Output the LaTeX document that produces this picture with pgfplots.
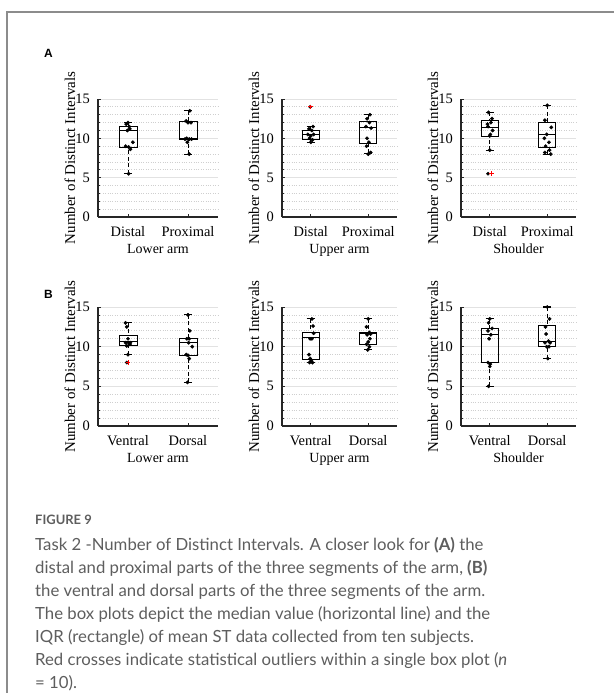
\documentclass[border=0pt]{standalone}
\usepackage{fontspec}
\setmainfont{Liberation Serif}
\newfontfamily\capfont{Lato}
\newfontfamily\lblfont{Liberation Sans}
\usepackage{pgfplots}
\pgfplotsset{compat=1.18}
\usepgfplotslibrary{statistics}
\definecolor{axgray}{HTML}{262626}
\definecolor{gridmaj}{HTML}{E2E2E2}
\definecolor{gridmin}{HTML}{CFCFCF}
\definecolor{capgray}{HTML}{5E5E5E}
\definecolor{framegray}{HTML}{8C8C8C}

\pgfplotsset{
 panel/.style={
  scale only axis,
  xmin=0.5,xmax=2.5,ymin=0,ymax=15,
  axis x line*=bottom, axis y line*=left,
  axis line style={-, line width=1.1bp, axgray},
  ytick={0,5,10,15}, minor ytick={1,2,3,4,6,7,8,9,11,12,13,14},
  xtick={1,2},
  tick align=inside, major tick length=3bp, minor tick length=2bp,
  tick style={axgray, line width=0.8bp},
  ymajorgrids, yminorgrids,
  major grid style={gridmaj, line width=0.8bp},
  minor grid style={gridmin, dotted, line width=0.8bp},
  font=\fontsize{14}{16}\selectfont,
  ticklabel style={font=\fontsize{14.5}{16}\selectfont},
  /pgf/number format/assume math mode=true,
  yticklabel style={anchor=east, inner sep=0pt, xshift=-8bp},
  xticklabel style={anchor=base, inner sep=0pt, yshift=-19bp},
  ylabel={Number of Distinct Intervals},
  ylabel style={at={([xshift=-28bp]axis description cs:0,0.5)}, anchor=center, font=\fontsize{15}{17}\selectfont},
  xlabel style={at={([yshift=-36bp]axis description cs:0.5,0)}, anchor=base, inner sep=0pt},
  clip=false,
  boxplot/draw direction=y,
  boxplot/box extend=0.3, boxplot/whisker extend=0.14,
  boxplot/every box/.style={draw=black, line width=0.8bp},
  boxplot/every median/.style={line width=0.9bp},
  boxplot/every whisker/.style={line width=0.9bp},
  boxplot/draw/lower whisker/.code={%
   \draw[/pgfplots/boxplot/every whisker/.try, dash pattern=on 4bp off 2.5bp]
     (boxplot box cs:\pgfplotsboxplotvalue{lower whisker},0.5) --
     (boxplot box cs:\pgfplotsboxplotvalue{lower quartile},0.5);
   \draw[/pgfplots/boxplot/every whisker/.try, solid, line width=1.1bp]
     (boxplot whisker cs:\pgfplotsboxplotvalue{lower whisker},0) --
     (boxplot whisker cs:\pgfplotsboxplotvalue{lower whisker},1);
  },
  boxplot/draw/upper whisker/.code={%
   \draw[/pgfplots/boxplot/every whisker/.try, dash pattern=on 4bp off 2.5bp]
     (boxplot box cs:\pgfplotsboxplotvalue{upper whisker},0.5) --
     (boxplot box cs:\pgfplotsboxplotvalue{upper quartile},0.5);
   \draw[/pgfplots/boxplot/every whisker/.try, solid, line width=1.1bp]
     (boxplot whisker cs:\pgfplotsboxplotvalue{upper whisker},0) --
     (boxplot whisker cs:\pgfplotsboxplotvalue{upper whisker},1);
  },
 },
 dots/.style={only marks, mark=*, mark size=1.7bp, black},
 outl/.style={only marks, mark=+, mark size=2.3bp, red, line width=0.9bp},
}

\begin{document}
\begin{tikzpicture}
\useasboundingbox (0,0) rectangle (614bp,-693bp);
\fill[white] (0,0) rectangle (614bp,-693bp);
\draw[framegray, line width=1.3bp] (7bp,-693bp) -- (7bp,-12bp) -- (614bp,-12bp);

\node[anchor=base west, inner sep=0, font=\lblfont\bfseries\fontsize{12}{13}\selectfont] at (44bp,-57bp) {A};
\node[anchor=base west, inner sep=0, font=\lblfont\bfseries\fontsize{12}{13}\selectfont] at (44bp,-298bp) {B};

% ---------- Row A ----------
\begin{axis}[panel, at={(98bp,-217bp)}, anchor=south west, width=120bp, height=118bp,
  xticklabels={Distal,Proximal}, xlabel={Lower arm}]
\addplot[black, boxplot prepared={draw position=1, lower whisker=5.5, lower quartile=8.9, median=11.0, upper quartile=11.5, upper whisker=12.0}] coordinates {};
\addplot[black, boxplot prepared={draw position=2, lower whisker=8.0, lower quartile=9.9, median=9.95, upper quartile=12.1, upper whisker=13.5}] coordinates {};
\addplot[dots] coordinates {(1.00,12.0) (0.97,11.8) (1.02,11.5) (1.03,11.2) (1.08,9.5) (0.96,9.0) (1.01,8.9) (1.04,8.6) (0.99,11.0) (1.01,5.5)};
\addplot[dots] coordinates {(2.03,13.5) (1.97,12.2) (2.00,12.0) (2.05,12.0) (1.98,10.0) (2.02,9.9) (1.95,9.9) (2.06,9.9) (1.99,9.5) (2.02,8.0)};
\end{axis}

\begin{axis}[panel, at={(282bp,-217bp)}, anchor=south west, width=115bp, height=118bp,
  xticklabels={Distal,Proximal}, xlabel={Upper arm}]
\addplot[black, boxplot prepared={draw position=1, lower whisker=9.5, lower quartile=9.9, median=10.5, upper quartile=11.05, upper whisker=11.5}] coordinates {};
\addplot[black, boxplot prepared={draw position=2, lower whisker=8.1, lower quartile=9.35, median=11.35, upper quartile=12.1, upper whisker=13.0}] coordinates {};
\addplot[dots] coordinates {(1.04,11.5) (0.97,11.2) (1.02,11.0) (0.95,10.5) (1.05,10.5) (1.00,10.3) (0.98,10.0) (1.03,9.8) (1.00,9.5) (0.99,14.0)};
\addplot[outl] coordinates {(1.0,14.0)};
\addplot[dots] coordinates {(2.03,13.0) (1.98,12.5) (2.02,12.0) (1.96,11.5) (2.05,11.3) (1.98,10.0) (2.01,9.5) (1.97,9.0) (2.04,8.2) (2.00,8.0)};
\end{axis}

\begin{axis}[panel, at={(461bp,-217bp)}, anchor=south west, width=115bp, height=118bp,
  xticklabels={Distal,Proximal}, xlabel={Shoulder}]
\addplot[black, boxplot prepared={draw position=1, lower whisker=8.5, lower quartile=10.3, median=11.4, upper quartile=12.3, upper whisker=13.3}] coordinates {};
\addplot[black, boxplot prepared={draw position=2, lower whisker=8.0, lower quartile=8.8, median=10.5, upper quartile=12.0, upper whisker=14.2}] coordinates {};
\addplot[dots] coordinates {(0.98,13.3) (1.04,12.5) (1.02,12.0) (0.96,11.8) (0.97,11.5) (1.05,11.0) (1.01,10.5) (1.00,10.3) (1.00,8.5) (0.97,5.5)};
\addplot[outl] coordinates {(1.03,5.5)};
\addplot[dots] coordinates {(2.00,14.2) (1.96,12.3) (2.07,11.4) (1.99,10.5) (1.95,10.0) (2.03,9.5) (1.97,9.0) (2.04,8.5) (1.96,8.2) (2.06,8.0)};
\end{axis}

% ---------- Row B ----------
\begin{axis}[panel, at={(98bp,-426bp)}, anchor=south west, width=120bp, height=119bp,
  xticklabels={Ventral,Dorsal}, xlabel={Lower arm}]
\addplot[black, boxplot prepared={draw position=1, lower whisker=9.0, lower quartile=10.1, median=10.6, upper quartile=11.4, upper whisker=13.0}] coordinates {};
\addplot[black, boxplot prepared={draw position=2, lower whisker=5.5, lower quartile=8.9, median=10.5, upper quartile=11.1, upper whisker=14.0}] coordinates {};
\addplot[dots] coordinates {(0.96,13.0) (0.98,12.5) (1.00,11.0) (0.96,10.5) (1.04,10.5) (1.01,10.5) (1.03,10.3) (0.98,10.1) (1.00,9.0) (0.98,8.0)};
\addplot[outl] coordinates {(1.0,8.0)};
\addplot[dots] coordinates {(2.00,14.0) (2.03,12.0) (1.98,11.0) (2.02,11.0) (2.01,10.5) (2.07,10.0) (1.97,9.0) (2.00,8.9) (2.02,8.5) (1.99,5.5)};
\end{axis}

\begin{axis}[panel, at={(282bp,-426bp)}, anchor=south west, width=115bp, height=119bp,
  xticklabels={Ventral,Dorsal}, xlabel={Upper arm}]
\addplot[black, boxplot prepared={draw position=1, lower whisker=8.0, lower quartile=8.4, median=11.1, upper quartile=11.8, upper whisker=13.5}] coordinates {};
\addplot[black, boxplot prepared={draw position=2, lower whisker=9.6, lower quartile=10.25, median=11.65, upper quartile=11.85, upper whisker=13.5}] coordinates {};
\addplot[dots] coordinates {(1.02,13.5) (1.04,12.6) (1.05,11.7) (0.99,11.0) (1.02,11.0) (0.97,9.0) (0.99,8.5) (1.01,8.3) (0.98,8.0) (1.03,8.0)};
\addplot[dots] coordinates {(2.00,13.5) (1.97,12.5) (2.02,11.8) (2.04,11.6) (1.98,11.5) (2.03,11.0) (2.00,10.6) (1.97,10.3) (2.02,10.0) (1.99,9.6)};
\end{axis}

\begin{axis}[panel, at={(461bp,-426bp)}, anchor=south west, width=115bp, height=119bp,
  xticklabels={Ventral,Dorsal}, xlabel={Shoulder}]
\addplot[black, boxplot prepared={draw position=1, lower whisker=5.0, lower quartile=8.0, median=11.6, upper quartile=12.25, upper whisker=13.5}] coordinates {};
\addplot[black, boxplot prepared={draw position=2, lower whisker=8.5, lower quartile=10.0, median=10.7, upper quartile=12.7, upper whisker=15.0}] coordinates {};
\addplot[dots] coordinates {(1.00,13.5) (0.98,13.0) (1.04,12.3) (0.97,12.0) (1.02,11.5) (0.99,11.0) (0.97,8.0) (1.01,7.8) (1.00,7.5) (0.98,5.0)};
\addplot[dots] coordinates {(2.00,15.0) (2.04,13.5) (1.97,12.5) (1.98,11.6) (2.02,10.7) (1.96,10.5) (2.05,10.5) (1.99,10.0) (2.03,10.0) (2.01,8.5)};
\end{axis}

% ---------- Caption ----------
\begin{scope}[every node/.style={anchor=base west, inner sep=0pt, text=capgray, font=\capfont\fontsize{16.8}{19}\selectfont}]
\node[font=\capfont\bfseries\fontsize{13}{15}\selectfont] at (35bp,-524bp) {FIGURE 9};
\node at (35bp,-550bp) {Task 2 -Number of Distinct Intervals. A closer look for {\bfseries (A)} the};
\node at (35bp,-573bp) {distal and proximal parts of the three segments of the arm, {\bfseries (B)}};
\node at (35bp,-596bp) {the ventral and dorsal parts of the three segments of the arm.};
\node at (35bp,-619bp) {The box plots depict the median value (horizontal line) and the};
\node at (35bp,-642bp) {IQR (rectangle) of mean ST data collected from ten subjects.};
\node at (35bp,-665bp) {Red crosses indicate statistical outliers within a single box plot ({\itshape n}};
\node at (35bp,-688bp) {= 10).};
\end{scope}
\end{tikzpicture}
\end{document}
